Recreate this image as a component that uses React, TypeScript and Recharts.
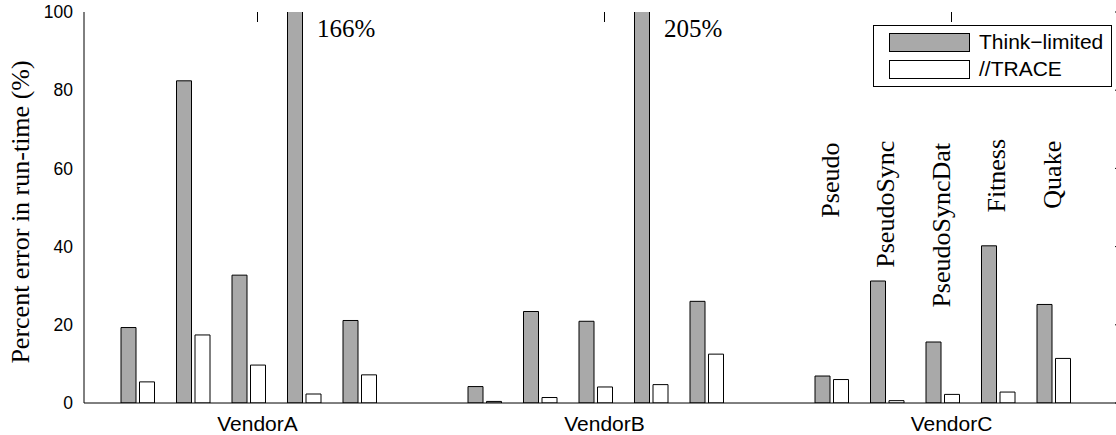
import React from 'react';
import { BarChart, Bar, XAxis, YAxis, Legend, LabelList, Label } from 'recharts';

// ---- data ----
const categories = ['VendorA', 'VendorB', 'VendorC'];
const benchmarks = ['Pseudo', 'PseudoSync', 'PseudoSyncDat', 'Fitness', 'Quake'];
// per vendor: values per benchmark (percent error in run-time)
const thinkLimited = [
  [19.3, 82.4, 32.7, 166, 21.1],
  [4.2, 23.4, 20.9, 205, 26.0],
  [6.9, 31.2, 15.6, 40.2, 25.2],
];
const traceValues = [
  [5.4, 17.4, 9.7, 2.3, 7.2],
  [0.4, 1.4, 4.1, 4.7, 12.5],
  [6.0, 0.6, 2.2, 2.8, 11.4],
];
// level (in % units) where each benchmark name starts above the VendorC bars
const benchmarkLabelLevel = [47.4, 34.6, 24.4, 48.7, 49.7];
const yTicks = [0, 20, 40, 60, 80, 100];
const seriesNames = ['Think\u2212limited', '//TRACE'];

const data = categories.map((name, ci) => {
  const row: Record<string, any> = { name };
  benchmarks.forEach((_, bi) => {
    row[`think${bi}`] = thinkLimited[ci][bi];
    row[`trace${bi}`] = traceValues[ci][bi];
  });
  return row;
});

const W = 1140;
const H = 435;
const MARGIN = { top: 12, right: 15, left: 0, bottom: 0 };
const SANS = '"Liberation Sans", Arial, Helvetica, sans-serif';
const SERIF = '"Liberation Serif", "Times New Roman", Times, serif';
const GRAY = '#a9a9a9';

// category label + matching inward tick mark on the top frame
const XTick = (props: any) => {
  const { x, y, payload } = props;
  return (
    <g>
      <line x1={x} x2={x} y1={MARGIN.top} y2={MARGIN.top + 10} stroke="#000" strokeWidth={1} />
      <text x={x} y={y} dy="0.71em" textAnchor="middle" fontFamily={SANS} fontSize={21} fill="#000">
        {payload.value}
      </text>
    </g>
  );
};
// value label + matching inward tick mark on the right frame
const YTick = (props: any) => {
  const { x, y, payload } = props;
  const xr = W - MARGIN.right;
  return (
    <g>
      <line x1={xr - 10} x2={xr} y1={y} y2={y} stroke="#000" strokeWidth={1} />
      <text x={x} y={y} dy="0.355em" textAnchor="end" fontFamily={SANS} fontSize={17.5} fill="#000">
        {payload.value}
      </text>
    </g>
  );
};

const OverflowLabel = (props: any) => {
  const { x, width, value } = props;
  if (value == null || value <= 100) return null;
  return (
    <text x={x + width + 14.5} y={MARGIN.top + 24.5} fontFamily={SERIF} fontSize={25} fill="#000">
      {`${value}%`}
    </text>
  );
};

const makeBenchLabel = (bi: number) => (props: any) => {
  const { x, y, width, height, value, index } = props;
  if (index !== 2 || !value) return null;
  const base = y + height;
  const pxPer = height / value;
  const ty = base - benchmarkLabelLevel[bi] * pxPer;
  const tx = x + width + 1.75 + 7;
  return (
    <text
      x={tx}
      y={ty}
      transform={`rotate(-90, ${tx}, ${ty})`}
      textAnchor="start"
      fontFamily={SERIF}
      fontSize={26}
      fill="#000"
    >
      {benchmarks[bi]}
    </text>
  );
};

const LegendBox = (props: any) => {
  const payload = (props.payload || [])
    .filter((p: any) => p.type !== 'none' && seriesNames.includes(p.value))
    .sort((a: any, b: any) => seriesNames.indexOf(a.value) - seriesNames.indexOf(b.value));
  return (
    <div
      style={{
        position: 'relative',
        width: 239,
        height: 62,
        border: '1px solid #000',
        background: '#fff',
        boxSizing: 'border-box',
      }}
    >
      {payload.map((p: any, i: number) => (
        <React.Fragment key={i}>
          <div
            style={{
              position: 'absolute',
              left: 15,
              top: 7 + i * 27,
              width: 81,
              height: 19,
              background: p.payload?.fill ?? p.color,
              border: '1px solid #000',
              boxSizing: 'border-box',
            }}
          />
          <div
            style={{
              position: 'absolute',
              left: 105,
              top: 4 + i * 27,
              fontFamily: SANS,
              fontSize: 21,
              lineHeight: '24px',
              color: '#000',
              whiteSpace: 'nowrap',
            }}
          >
            {p.value}
          </div>
        </React.Fragment>
      ))}
    </div>
  );
};

export default function App() {
  const bars: React.ReactNode[] = [];
  benchmarks.forEach((_, bi) => {
    bars.push(
      <Bar
        key={`think${bi}`}
        dataKey={`think${bi}`}
        name={seriesNames[0]}
        fill={GRAY}
        stroke="#000"
        strokeWidth={1}
        isAnimationActive={false}
        legendType={bi === 0 ? 'rect' : 'none'}
      >
        <LabelList dataKey={`think${bi}`} content={OverflowLabel} />
        <LabelList dataKey={`think${bi}`} content={makeBenchLabel(bi)} />
      </Bar>
    );
    bars.push(
      <Bar
        key={`trace${bi}`}
        dataKey={`trace${bi}`}
        name={seriesNames[1]}
        fill="#ffffff"
        stroke="#000"
        strokeWidth={1}
        isAnimationActive={false}
        legendType={bi === 0 ? 'rect' : 'none'}
      />
    );
    bars.push(
      <Bar
        key={`gap${bi}`}
        dataKey={`gap${bi}`}
        fill="none"
        stroke="none"
        isAnimationActive={false}
        legendType="none"
      />
    );
  });

  return (
    <div style={{ position: 'absolute', left: 0, top: 0, width: 1116, height: 435, overflow: 'hidden', background: '#fff' }}>
      <BarChart width={W} height={H} data={data} margin={MARGIN} barSize={15} barGap={3.5}>
        <XAxis
          dataKey="name"
          height={32}
          tickLine={false}
          tickSize={0}
          tickMargin={13.5}
          axisLine={{ stroke: '#000', strokeWidth: 1 }}
          tick={XTick}
        />
        <XAxis
          xAxisId="top"
          dataKey="name"
          orientation="top"
          mirror
          height={0}
          tick={false}
          tickLine={false}
          axisLine={{ stroke: '#000', strokeWidth: 1 }}
        />
        <YAxis
          width={84}
          domain={[0, 100]}
          ticks={yTicks}
          allowDataOverflow
          tickLine={false}
          tickSize={0}
          tickMargin={11}
          axisLine={{ stroke: '#000', strokeWidth: 1 }}
          tick={YTick}
        >
          <Label
            content={() => (
              <text
                x={29}
                y={212}
                transform="rotate(-90, 29, 212)"
                textAnchor="middle"
                fontFamily={SERIF}
                fontSize={26}
                fill="#000"
              >
                Percent error in run-time (%)
              </text>
            )}
          />
        </YAxis>
        <YAxis
          yAxisId="right"
          orientation="right"
          mirror
          width={0}
          type="number"
          domain={[0, 100]}
          tick={false}
          tickLine={false}
          axisLine={{ stroke: '#000', strokeWidth: 1 }}
        />
        <Legend
          layout="vertical"
          align="center"
          verticalAlign="middle"
          itemSorter={null as any}
          content={LegendBox}
          wrapperStyle={{ position: 'absolute', left: 873, top: 25, width: 239, height: 62 }}
        />
        {bars}
      </BarChart>
    </div>
  );
}
